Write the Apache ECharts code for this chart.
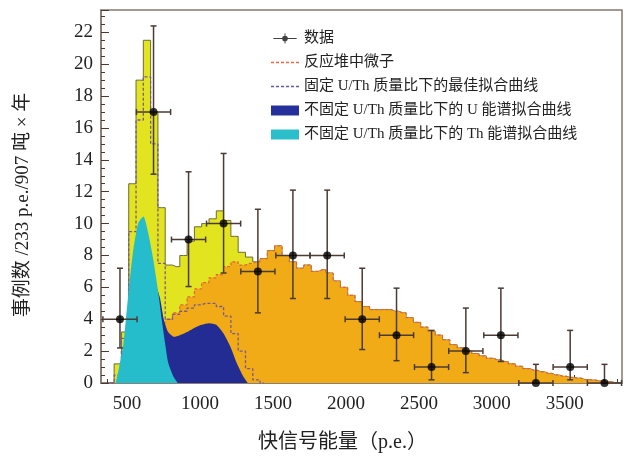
<!DOCTYPE html>
<html>
<head>
<meta charset="utf-8">
<title>快信号能量谱</title>
<script src="https://cdn.jsdelivr.net/npm/echarts@6/dist/echarts.min.js"></script>
<style>
  html, body { margin: 0; padding: 0; background: #fff; }
  #chart { width: 629px; height: 459px; }
</style>
</head>
<body>
<div id="chart"></div>
<script>
// 直方图分箱：第一箱中心 325 p.e.，箱宽 50 p.e.
const binStart = 325
const binWidth = 50

// 总拟合（黄色）
const totalFit = [
  0, 1.2, 3.2, 12.5, 19.0, 21.5, 17.0, 11.0, 7.4, 7.3,
  8.0, 8.9, 9.8, 10.0, 10.3, 10.8, 10.2, 9.2, 8.2, 7.9,
  7.6, 7.8, 8.3, 8.6, 8.0, 7.6, 7.2, 7.4, 7.0, 7.1,
  6.9, 6.4, 6.0, 5.5, 5.1, 4.8, 4.6, 4.6, 4.6, 4.5,
  4.4, 4.1, 3.8, 3.5, 3.25, 3.0, 2.7, 2.4, 2.2, 2.0,
  1.85, 1.7, 1.55, 1.45, 1.35, 1.2, 1.05, 0.9, 0.8, 0.7,
  0.6, 0.5, 0.42, 0.35, 0.3, 0.22, 0.18, 0.12, 0.08, 0.05
]
// 反应堆中微子（橙色）
const reactor = [
  null, null, null, null, null, null, null, 3.8, 4.0, 4.4,
  4.9, 5.4, 5.9, 6.3, 6.6, 6.8, 7.3, 7.6, 7.4, 7.5,
  7.6, 7.8, 8.3, 8.6, 8.0, 7.6, 7.2, 7.4, 7.0, 7.1,
  6.9, 6.4, 6.0, 5.5, 5.1, 4.8, 4.6, 4.6, 4.6, 4.5,
  4.4, 4.1, 3.8, 3.5, 3.25, 3.0, 2.7, 2.4, 2.2, 2.0,
  1.85, 1.7, 1.55, 1.45, 1.35, 1.2, 1.05, 0.9, 0.8, 0.7,
  0.6, 0.5, 0.42, 0.35, 0.3, 0.22, 0.18, 0.12, 0.08, 0.05
]
// 固定 U/Th 质量比下的最佳拟合（虚线）
const fixedFit = [
  0, 0.5, 2.8, 9.5, 16.5, 19.2, 15.0, 7.5, 4.0, 4.3,
  4.5, 4.7, 4.9, 5.0, 5.0, 4.8, 4.2, 3.1, 2.0, 0.9,
  0.2, 0
]
// U、Th 能谱拟合曲线 [p.e., 事例数]
const uFit = [
  [540, 0], [560, 5.5], [600, 6.5], [640, 6.0], [665, 5.3], [690, 4.0], [720, 3.2],
  [760, 2.9], [800, 3.0], [850, 3.2], [900, 3.45], [950, 3.65], [1000, 3.75],
  [1050, 3.65], [1100, 3.1], [1145, 2.3], [1190, 1.25], [1235, 0.4], [1265, 0]
]
const thFit = [
  [360, 0], [380, 0.8], [414, 2.5], [448, 5.65], [482, 8.4], [516, 10.05], [551, 10.45],
  [584, 9.4], [619, 7.7], [653, 5.65], [676, 4.0], [699, 2.5], [721, 1.25], [756, 0.4], [785, 0]
]

// 数据点及误差
const dataX = [390, 620, 860, 1100, 1335, 1575, 1810, 2050, 2285, 2525, 2760, 3000, 3240, 3475, 3710]
const dataY = [4, 17, 9, 10, 7, 8, 8, 4, 3, 1, 2, 3, 0, 1, 0]
const dataLow = [2.2, 13.1, 6.05, 6.9, 4.4, 5.3, 5.3, 2.1, 1.4, 0.2, 0.65, 1.35, 0, 0.2, 0]
const dataHigh = [7.2, 22.4, 13.25, 14.4, 10.9, 12.1, 12.1, 7.2, 5.95, 3.3, 4.7, 5.95, 1.17, 3.3, 1.17]
const dataHalfWidth = 117

// 刻度
const xMajorTicks = [500, 1000, 1500, 2000, 2500, 3000, 3500]
const xMinorTicks = [300, 400, 500, 600, 700, 800, 900, 1000, 1100, 1200, 1300, 1400, 1500, 1600,
  1700, 1800, 1900, 2000, 2100, 2200, 2300, 2400, 2500, 2600, 2700, 2800, 2900, 3000, 3100,
  3200, 3300, 3400, 3500, 3600, 3700, 3800]

const toBins = arr => arr.map((v, i) => [binStart + i * binWidth, v])

const font = 'Liberation Serif, Noto Sans CJK SC, serif'
const frameColor = '#85776f'
const dashIcon = 'path://M0,0h3v1.6h-3z M5,0h3v1.6h-3z M10,0h3v1.6h-3z M15,0h3v1.6h-3z M20,0h3v1.6h-3z M25,0h3v1.6h-3z'
const dataIcon = 'path://M0,5.4H28V6.6H0Z M13.4,0H14.6V12H13.4Z M14,2.6A3.4,3.4,0,1,1,13.99,2.6Z'

const myChart = echarts.init(document.getElementById('chart'))
myChart.setOption({
  backgroundColor: '#fff',
  animation: false,
  grid: {
    left: 101,
    right: 7,
    top: 10,
    bottom: 76,
    show: true,
    borderColor: frameColor,
    borderWidth: 1.5
  },
  legend: {
    orient: 'vertical',
    left: 266,
    top: 26,
    itemWidth: 28,
    itemHeight: 10,
    itemGap: 9,
    textStyle: {
      fontFamily: font,
      fontSize: 15,
      lineHeight: 15,
      color: '#222'
    },
    data: [
      { name: '数据', icon: dataIcon, itemStyle: { color: '#111', borderWidth: 0 } },
      { name: '反应堆中微子', icon: dashIcon, itemStyle: { color: '#e8684a', borderWidth: 0 } },
      { name: '固定 U/Th 质量比下的最佳拟合曲线', icon: dashIcon, itemStyle: { color: '#6a5aa6', borderWidth: 0 } },
      { name: '不固定 U/Th 质量比下的 U 能谱拟合曲线', icon: 'rect', itemStyle: { color: '#26309a', borderWidth: 0 } },
      { name: '不固定 U/Th 质量比下的 Th 能谱拟合曲线', icon: 'rect', itemStyle: { color: '#2bbfcb', borderWidth: 0 } }
    ]
  },
  xAxis: [
    {
      type: 'value',
      min: 260,
      max: 3830,
      name: '快信号能量（p.e.）',
      nameLocation: 'middle',
      nameGap: 50,
      nameTextStyle: {
        fontFamily: font,
        fontSize: 20,
        color: '#222',
        padding: [0, 38, 0, 0]
      },
      axisLine: { lineStyle: { color: frameColor, width: 1.5 } },
      axisTick: { inside: true, length: 8, customValues: xMajorTicks, lineStyle: { color: '#4a3b35' } },
      axisLabel: {
        customValues: xMajorTicks,
        formatter: v => String(v),
        margin: 12,
        fontFamily: font,
        fontSize: 19,
        color: '#222',
        padding: [0, 18, 0, 0]
      },
      splitLine: { show: false }
    },
    {
      type: 'value',
      min: 260,
      max: 3830,
      position: 'bottom',
      axisLine: { show: false },
      axisTick: { inside: true, length: 4, customValues: xMinorTicks, lineStyle: { color: '#4a3b35' } },
      axisLabel: { show: false },
      splitLine: { show: false }
    }
  ],
  yAxis: {
    type: 'value',
    min: 0,
    max: 23.4,
    interval: 2,
    name: '事例数 /233 p.e./907 吨 × 年',
    nameLocation: 'middle',
    nameRotate: 90,
    nameGap: 68,
    nameTextStyle: {
      fontFamily: font,
      fontSize: 19,
      color: '#222',
      padding: [0, 17, 0, 0]
    },
    axisLine: { show: true, lineStyle: { color: frameColor, width: 1.5 } },
    axisTick: { inside: true, length: 8, lineStyle: { color: '#4a3b35' } },
    minorTick: { show: true, splitNumber: 4, length: 4, lineStyle: { color: '#4a3b35' } },
    axisLabel: {
      showMaxLabel: false,
      margin: 8,
      fontFamily: font,
      fontSize: 19,
      color: '#222'
    },
    splitLine: { show: false }
  },
  series: [
    {
      name: '总拟合',
      type: 'line',
      step: 'middle',
      symbol: 'none',
      data: toBins(totalFit),
      lineStyle: { color: '#6f6a3c', width: 1 },
      itemStyle: { color: '#e2e41f' },
      areaStyle: { color: '#e2e41f', opacity: 1 },
      z: 1
    },
    {
      name: '反应堆中微子',
      type: 'line',
      step: 'middle',
      symbol: 'none',
      data: toBins(reactor),
      lineStyle: { color: '#e0663a', width: 1.2, type: [3, 2] },
      itemStyle: { color: '#e8684a' },
      areaStyle: { color: '#f1ab16', opacity: 1 },
      z: 2
    },
    {
      name: '固定 U/Th 质量比下的最佳拟合曲线',
      type: 'line',
      step: 'middle',
      symbol: 'none',
      data: toBins(fixedFit),
      lineStyle: { color: '#7a5a8e', width: 1.3, type: [3, 2] },
      itemStyle: { color: '#6a5aa6' },
      z: 3
    },
    {
      name: '不固定 U/Th 质量比下的 U 能谱拟合曲线',
      type: 'line',
      smooth: 0.2,
      symbol: 'none',
      data: uFit,
      lineStyle: { width: 0 },
      itemStyle: { color: '#26309a' },
      areaStyle: { color: '#222c92', opacity: 1 },
      z: 4
    },
    {
      name: '不固定 U/Th 质量比下的 Th 能谱拟合曲线',
      type: 'line',
      smooth: 0.2,
      symbol: 'none',
      data: thFit,
      lineStyle: { width: 0 },
      itemStyle: { color: '#2bbfcb' },
      areaStyle: { color: '#25bccb', opacity: 1 },
      z: 5
    },
    {
      // 误差棒
      name: '误差',
      type: 'custom',
      clip: false,
      z: 6,
      data: dataX.map((x, i) => [x, dataY[i], dataLow[i], dataHigh[i]]),
      encode: { x: 0, y: 1 },
      renderItem(params, api) {
        const x = api.value(0)
        const y = api.value(1)
        const pLow = api.coord([x, api.value(2)])
        const pHigh = api.coord([x, api.value(3)])
        const pLeft = api.coord([x - dataHalfWidth, y])
        const pRight = api.coord([x + dataHalfWidth, y])
        const cap = 3
        const style = { stroke: '#4a3b35', lineWidth: 1.5 }
        const seg = (x1, y1, x2, y2) => ({ type: 'line', shape: { x1, y1, x2, y2 }, style })
        return {
          type: 'group',
          children: [
            seg(pLow[0], pLow[1], pHigh[0], pHigh[1]),
            seg(pHigh[0] - cap, pHigh[1], pHigh[0] + cap, pHigh[1]),
            seg(pLow[0] - cap, pLow[1], pLow[0] + cap, pLow[1]),
            seg(pLeft[0], pLeft[1], pRight[0], pRight[1]),
            seg(pLeft[0], pLeft[1] - cap, pLeft[0], pLeft[1] + cap),
            seg(pRight[0], pRight[1] - cap, pRight[0], pRight[1] + cap)
          ]
        }
      }
    },
    {
      name: '数据',
      type: 'scatter',
      symbolSize: 8,
      clip: false,
      z: 7,
      data: dataX.map((x, i) => [x, dataY[i]]),
      itemStyle: { color: '#000' }
    }
  ]
})
</script>
</body>
</html>
